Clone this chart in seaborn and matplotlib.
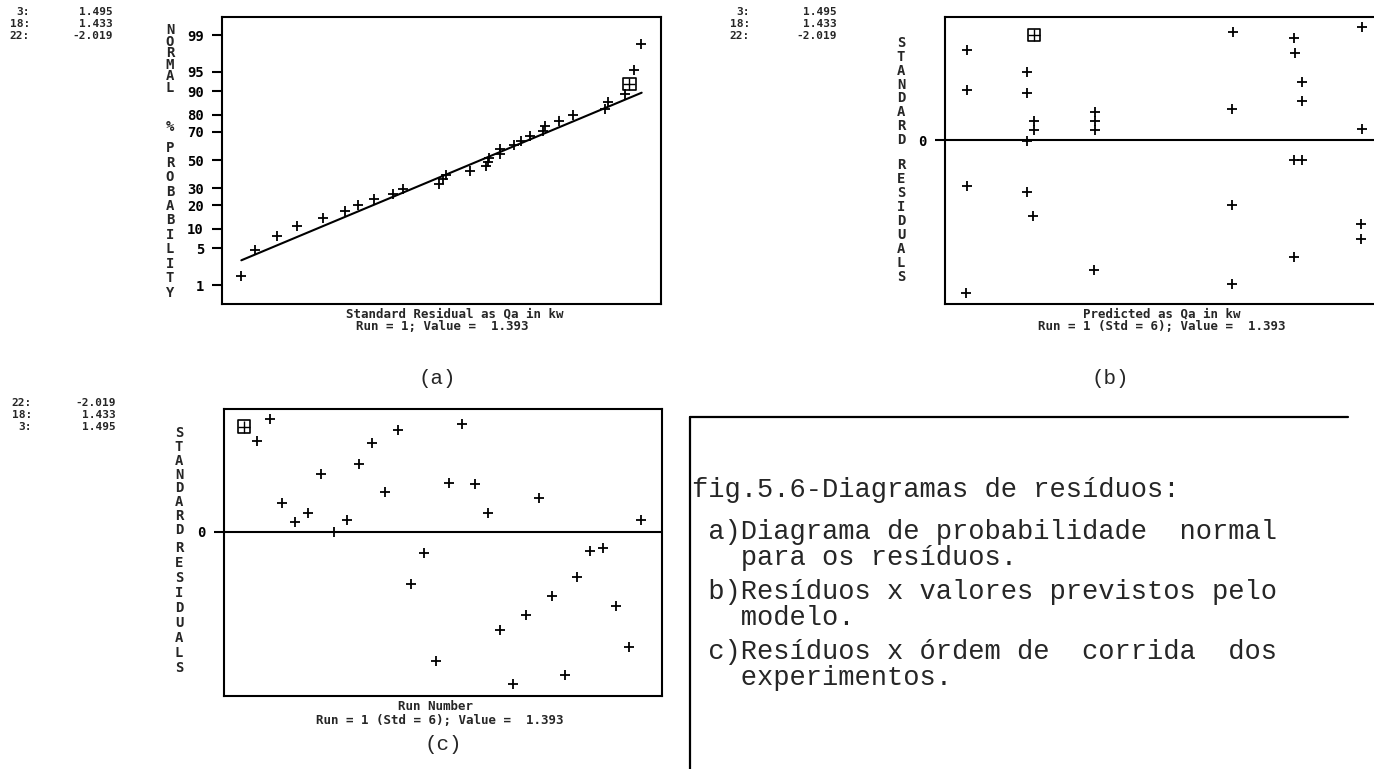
import numpy as np
import pandas as pd
import seaborn as sns
import matplotlib.pyplot as plt
from matplotlib.lines import Line2D
from statistics import NormalDist

# standardized residuals, run order 1..32
runs = list(range(1, 33))
resid = [1.393, 1.20, 1.495, 0.38, 0.13, 0.25, 0.77, -0.01, 0.16, 0.90,
         1.18, 0.52, 1.35, -0.69, -0.28, -1.71, 0.65, 1.433, 0.63, 0.25,
         -1.30, -2.019, -1.11, 0.44, -0.85, -1.90, -0.60, -0.25, -0.22, -0.99,
         -1.53, 0.15]

# panel (b): predicted Qa (kW) vs residual (run 1 drawn apart)
pred_b = [2.22, 2.22, 2.22, 2.21, 2.82, 2.82, 2.89, 2.89, 2.82, 2.82, 2.88,
          3.50, 3.50, 3.50, 3.49, 4.88, 4.87, 4.87, 4.87,
          5.49, 5.50, 5.57, 5.57, 5.49, 5.57, 5.49, 6.17, 6.17, 6.16, 6.16]
resid_b = [1.19, 0.66, -0.60, -2.019, 0.90, 0.62, 0.25, 0.13, -0.01, -0.69, -1.00,
           0.38, 0.25, 0.13, -1.71, 1.433, 0.42, -0.85, -1.90,
           1.35, 1.16, 0.77, 0.52, -0.26, -0.26, -1.55, 1.495, 0.15, -1.11, -1.30]
run1_pred = 2.89
run1_resid = 1.393

# panel (a) probability axis and reference line
prob_ticks = [1, 5, 10, 20, 30, 50, 70, 80, 90, 95, 99]
fit_x = [-2.02, 1.50]
fit_pct = [3.1, 89.5]

flag_runs = [3, 18, 22]
flag_vals = ['1.495', '1.433', '-2.019']

caption = ['fig.5.6-Diagramas de resíduos:',
           ' a)Diagrama de probabilidade  normal',
           '   para os resíduos.',
           ' b)Resíduos x valores previstos pelo',
           '   modelo.',
           ' c)Resíduos x órdem de  corrida  dos',
           '   experimentos.']
caption_y = [490, 532, 558, 592, 618, 652, 678]

sns.set_style('white')
plt.rcParams['font.family'] = ['DejaVu Sans Mono', 'DejaVu Sans']
MONO = 'DejaVu Sans Mono'
PRN = 'Liberation Mono'

W, H = 1374, 769
nd = NormalDist()


def box(l, t, r, b):
    return [l / W, 1 - b / H, (r - l) / W, (b - t) / H]


def ftext(x, y, s, **kw):
    fig.text(x / W, 1 - y / H, s, **kw)


def vword(x, y0, y1, word, fs=10):
    # stacked letters, first letter centred at y0, last at y1
    step = (y1 - y0) / max(len(word) - 1, 1)
    ls = step / (fs * 100 / 72)
    ftext(x, (y0 + y1) / 2, '\n'.join(word), ha='center', va='center',
          fontsize=fs, fontweight='bold', family=MONO, linespacing=ls)


def style(ax):
    for sp in ax.spines.values():
        sp.set_color('black')
        sp.set_linewidth(1.5)
    ax.set_xticks([])
    ax.tick_params(axis='y', direction='out', length=7, width=1.5, pad=6,
                   labelsize=10, colors='black', left=True)
    for t in ax.get_yticklabels():
        t.set_fontweight('bold')
        t.set_family(MONO)
    ax.set_xlabel('')
    ax.set_ylabel('')


def highlight(ax, x, y):
    ax.scatter([x], [y], marker='s', s=80, facecolor='none', edgecolor='black', linewidths=1.2, zorder=4)
    ax.scatter([x], [y], marker='+', s=80, color='black', linewidths=1.0, zorder=4)


fig = plt.figure(figsize=(13.74, 7.69), dpi=100)
ax_a = fig.add_axes(box(222, 17, 661, 304))
ax_b = fig.add_axes(box(945, 17, 1392, 304))
ax_c = fig.add_axes(box(224, 409, 662, 696))

# (a) normal probability plot
n = len(resid)
df_a = pd.DataFrame({'resid': sorted(resid)})
df_a['rank'] = np.arange(1, n + 1)
df_a['z'] = [nd.inv_cdf((r - 0.5) / n) for r in df_a['rank']]
hi = df_a['resid'] == run1_resid
sns.scatterplot(data=df_a[~hi], x='resid', y='z', marker='+', s=45, color='black',
                linewidth=1.3, ax=ax_a, legend=False)
highlight(ax_a, run1_resid, df_a.loc[hi, 'z'].iloc[0])
sns.lineplot(x=fit_x, y=[nd.inv_cdf(p / 100) for p in fit_pct], color='black', lw=1.5, ax=ax_a)
ax_a.set_xlim(-2.19, 1.67)
ax_a.set_ylim(-2.68, 2.663)
ax_a.set_yticks([nd.inv_cdf(p / 100) for p in prob_ticks])
ax_a.set_yticklabels([str(p) for p in prob_ticks])
style(ax_a)

# (b) residuals vs predicted
sns.scatterplot(x=pred_b, y=resid_b, marker='+', s=45, color='black', linewidth=1.3, ax=ax_b, legend=False)
highlight(ax_b, run1_pred, run1_resid)
ax_b.axhline(0, color='black', lw=1.5)
ax_b.set_xlim(2.0, 6.47)
ax_b.set_ylim(-2.165, 1.63)
ax_b.set_yticks([0])
ax_b.set_yticklabels(['0'])
style(ax_b)

# (c) residuals vs run order
df_c = pd.DataFrame({'run': runs, 'resid': resid})
sns.scatterplot(data=df_c[df_c['run'] != 1], x='run', y='resid', marker='+', s=45, color='black',
                linewidth=1.3, ax=ax_c, legend=False)
highlight(ax_c, 1, run1_resid)
ax_c.axhline(0, color='black', lw=1.5)
ax_c.set_xlim(-0.56, 33.6)
ax_c.set_ylim(-2.18, 1.627)
ax_c.set_yticks([0])
ax_c.set_yticklabels(['0'])
style(ax_c)

# flagged runs
flag = dict(ha='right', va='center', fontsize=8, fontweight='bold', family=MONO)
for i, (r, v) in enumerate(zip(flag_runs, flag_vals)):
    for x0, xv in [(30, 113), (750, 837)]:
        ftext(x0, 12 + 12 * i, f'{r}:', **flag)
        ftext(xv, 12 + 12 * i, v, **flag)
for i, (r, v) in enumerate(zip(flag_runs[::-1], flag_vals[::-1])):
    ftext(32, 403 + 12 * i, f'{r}:', **flag)
    ftext(116, 403 + 12 * i, v, **flag)

# axis titles
vword(170, 32, 86, 'NORMAL')
vword(170, 127, 127, '%')
vword(170, 148, 293, 'PROBABILITY')
vword(901, 43, 140, 'STANDARD')
vword(901, 166, 276, 'RESIDUALS')
vword(179, 434, 529, 'STANDARD')
vword(179, 548, 668, 'RESIDUALS')

lab = dict(ha='center', va='center', fontsize=9, fontweight='bold', family=MONO)
ftext(455, 314, 'Standard Residual as Qa in kw', **lab)
ftext(442, 327, 'Run = 1; Value =  1.393', **lab)
ftext(1162, 314, 'Predicted as Qa in kw', **lab)
ftext(1162, 327, 'Run = 1 (Std = 6); Value =  1.393', **lab)
ftext(436, 707, 'Run Number', **lab)
ftext(440, 720, 'Run = 1 (Std = 6); Value =  1.393', **lab)

ftext(437, 378, '(a)', ha='center', va='center', fontsize=15, family=PRN)
ftext(1110, 379, '(b)', ha='center', va='center', fontsize=15, family=PRN)
ftext(443, 745, '(c)', ha='center', va='center', fontsize=15, family=PRN)

# caption frame
fig.add_artist(Line2D([690 / W, 690 / W], [0, 1 - 417 / H], color='black', lw=1.6))
fig.add_artist(Line2D([690 / W, 1348 / W], [1 - 417 / H, 1 - 417 / H], color='black', lw=1.6))
for s, y in zip(caption, caption_y):
    ftext(692, y, s, ha='left', va='center', fontsize=19.5, family=PRN)

fig.savefig('out.png', dpi=100)
